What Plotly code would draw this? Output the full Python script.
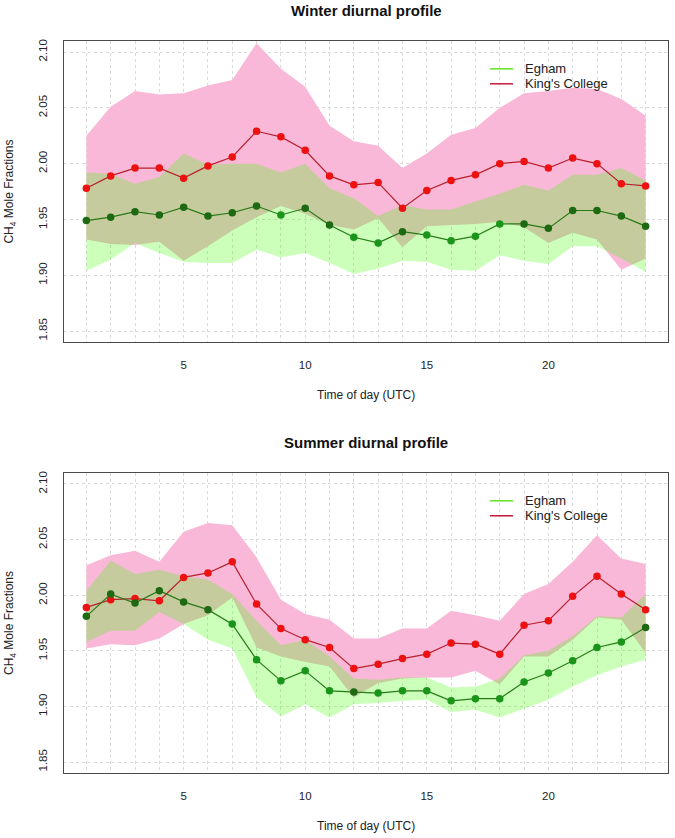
import plotly.graph_objects as go

# hour of day
hours = list(range(1, 25))

# winter profile
w_eg_mean = [1.949, 1.952, 1.957, 1.954, 1.961, 1.953, 1.956, 1.962, 1.954, 1.960, 1.945, 1.934,
             1.929, 1.939, 1.936, 1.931, 1.935, 1.946, 1.946, 1.942, 1.958, 1.958, 1.953, 1.944]
w_eg_lo = [1.904, 1.914, 1.929, 1.920, 1.912, 1.911, 1.911, 1.923, 1.916, 1.920, 1.911, 1.901,
           1.906, 1.913, 1.912, 1.905, 1.904, 1.918, 1.913, 1.910, 1.926, 1.926, 1.915, 1.903]
w_eg_hi = [1.992, 1.991, 1.982, 1.988, 2.009, 1.999, 2.000, 2.000, 1.992, 2.000, 1.978, 1.969,
           1.953, 1.963, 1.959, 1.959, 1.966, 1.973, 1.981, 1.976, 1.990, 1.990, 1.996, 1.985]
w_kc_mean = [1.978, 1.989, 1.996, 1.996, 1.987, 1.998, 2.006, 2.029, 2.024, 2.012, 1.989, 1.981,
             1.983, 1.960, 1.976, 1.985, 1.990, 2.000, 2.002, 1.996, 2.005, 2.000, 1.982, 1.980]
w_kc_lo = [1.932, 1.928, 1.927, 1.930, 1.913, 1.926, 1.940, 1.952, 1.962, 1.955, 1.945, 1.941,
           1.951, 1.925, 1.944, 1.945, 1.946, 1.948, 1.943, 1.929, 1.938, 1.932, 1.905, 1.915]
w_kc_hi = [2.025, 2.051, 2.065, 2.062, 2.063, 2.070, 2.075, 2.108, 2.085, 2.069, 2.034, 2.020,
           2.016, 1.996, 2.009, 2.026, 2.032, 2.050, 2.063, 2.065, 2.068, 2.067, 2.058, 2.043]

# summer profile
s_eg_mean = [1.981, 2.001, 1.993, 2.004, 1.994, 1.987, 1.974, 1.942, 1.923, 1.932, 1.914, 1.913,
             1.912, 1.914, 1.914, 1.905, 1.907, 1.907, 1.922, 1.930, 1.941, 1.953, 1.958, 1.971]
s_eg_lo = [1.958, 1.968, 1.968, 1.985, 1.974, 1.960, 1.952, 1.908, 1.891, 1.902, 1.890, 1.902,
           1.903, 1.905, 1.906, 1.895, 1.897, 1.890, 1.898, 1.906, 1.918, 1.928, 1.936, 1.942]
s_eg_hi = [2.004, 2.031, 2.019, 2.023, 2.017, 2.014, 2.001, 1.977, 1.955, 1.960, 1.945, 1.925,
           1.924, 1.926, 1.926, 1.917, 1.918, 1.925, 1.946, 1.950, 1.963, 1.981, 1.980, 2.001]
s_kc_mean = [1.989, 1.996, 1.997, 1.995, 2.016, 2.020, 2.030, 1.992, 1.970, 1.960, 1.953, 1.934,
             1.938, 1.943, 1.947, 1.957, 1.956, 1.947, 1.973, 1.977, 1.999, 2.017, 2.001, 1.987]
s_kc_lo = [1.952, 1.956, 1.955, 1.961, 1.974, 1.982, 1.998, 1.953, 1.945, 1.940, 1.936, 1.908,
           1.921, 1.925, 1.926, 1.926, 1.932, 1.920, 1.945, 1.945, 1.960, 1.980, 1.978, 1.948]
s_kc_hi = [2.027, 2.036, 2.040, 2.030, 2.057, 2.065, 2.063, 2.034, 1.996, 1.983, 1.978, 1.961,
           1.961, 1.970, 1.970, 1.986, 1.982, 1.977, 2.001, 2.010, 2.030, 2.054, 2.033, 2.028]

series_names = ["Egham", "King's College"]
y_ticks = [1.85, 1.90, 1.95, 2.00, 2.05, 2.10]
x_ticks = [5, 10, 15, 20]

W, H = 675, 838
FONT = "Liberation Sans, Arial, sans-serif"

PINK = "rgb(249,184,215)"
GREEN_BAND = "rgba(64,255,0,0.27)"
RED_LINE = "#b8202e"
RED_PT = "#ee1111"
GREEN_LINE = "#287a18"
GREEN_PT = "#1a951a"
GREEN_PT_DARK = "#1d6a12"
LEG_COLORS = ["#66e022", "#c8193c"]
GRID = "#dadada"


def px_x(x):
    return x / W


def px_y(y):
    return 1 - y / H


panels = [
    ("Winter diurnal profile", w_eg_mean, w_eg_lo, w_eg_hi, w_kc_mean, w_kc_lo, w_kc_hi, 39, 341),
    ("Summer diurnal profile", s_eg_mean, s_eg_lo, s_eg_hi, s_kc_mean, s_kc_lo, s_kc_hi, 472, 773),
]

fig = go.Figure()
annotations = []
shapes = []

for i, (title, eg_m, eg_lo, eg_hi, kc_m, kc_lo, kc_hi, top, bottom) in enumerate(panels):
    sfx = "" if i == 0 else str(i + 1)
    xa, ya = "x" + sfx, "y" + sfx

    # King's College band (pink) first, then Egham band on top
    fig.add_trace(go.Scatter(x=hours, y=kc_lo, mode="lines", line=dict(width=0),
                             showlegend=False, hoverinfo="skip", xaxis=xa, yaxis=ya))
    fig.add_trace(go.Scatter(x=hours, y=kc_hi, mode="lines", line=dict(width=0), fill="tonexty",
                             fillcolor=PINK, showlegend=False, hoverinfo="skip", xaxis=xa, yaxis=ya))
    fig.add_trace(go.Scatter(x=hours, y=eg_lo, mode="lines", line=dict(width=0),
                             showlegend=False, hoverinfo="skip", xaxis=xa, yaxis=ya))
    fig.add_trace(go.Scatter(x=hours, y=eg_hi, mode="lines", line=dict(width=0), fill="tonexty",
                             fillcolor=GREEN_BAND, showlegend=False, hoverinfo="skip", xaxis=xa, yaxis=ya))

    # mean lines; Egham points inside the pink band look darker in the original
    eg_cols = [GREEN_PT_DARK if lo <= v <= hi else GREEN_PT for v, lo, hi in zip(eg_m, kc_lo, kc_hi)]
    fig.add_trace(go.Scatter(x=hours, y=kc_m, mode="lines+markers",
                             line=dict(color=RED_LINE, width=1.2),
                             marker=dict(color=RED_PT, size=7.5),
                             showlegend=False, xaxis=xa, yaxis=ya))
    fig.add_trace(go.Scatter(x=hours, y=eg_m, mode="lines+markers",
                             line=dict(color=GREEN_LINE, width=1.2),
                             marker=dict(color=eg_cols, size=7.5),
                             showlegend=False, xaxis=xa, yaxis=ya))

    axis_common = dict(showline=True, mirror=True, linecolor="#4a4a4a", linewidth=1.4,
                       gridcolor=GRID, griddash="dot", gridwidth=1, zeroline=False,
                       ticks="", tickfont=dict(family=FONT, size=11.5, color="#222222"))
    fig.layout["xaxis" + sfx] = dict(axis_common, domain=[px_x(64), px_x(668)], range=[0.08, 24.92],
                                     tickvals=x_ticks, anchor=ya,
                                     minor=dict(dtick=1, tick0=0, showgrid=True, gridcolor=GRID,
                                                griddash="dot", gridwidth=1),
                                     ticklabelstandoff=12)
    fig.layout["yaxis" + sfx] = dict(axis_common, domain=[px_y(bottom), px_y(top)], range=[1.84, 2.11],
                                     tickvals=y_ticks, ticktext=["%.2f" % v for v in y_ticks],
                                     tickangle=-90, anchor=xa, ticklabelstandoff=11)

    annotations.append(dict(text="<b>" + title + "</b>", x=px_x(366), y=px_y(top - 30),
                            xref="paper", yref="paper", showarrow=False, xanchor="center", yanchor="middle",
                            font=dict(family=FONT, size=15, color="#111111")))
    annotations.append(dict(text="Time of day (UTC)", x=px_x(366), y=px_y(bottom + 53),
                            xref="paper", yref="paper", showarrow=False, xanchor="center", yanchor="middle",
                            font=dict(family=FONT, size=12, color="#222222")))
    annotations.append(dict(text="CH<sub>4</sub> Mole Fractions", x=px_x(10), y=px_y((top + bottom) / 2),
                            xref="paper", yref="paper", showarrow=False, textangle=-90,
                            xanchor="center", yanchor="middle",
                            font=dict(family=FONT, size=12, color="#222222")))

    # legend drawn as line keys with text labels
    for k, (name, col) in enumerate(zip(series_names, LEG_COLORS)):
        ly = top + 28 + 15 * k
        shapes.append(dict(type="line", xref="paper", yref="paper",
                           x0=px_x(490), x1=px_x(513), y0=px_y(ly), y1=px_y(ly),
                           line=dict(color=col, width=1.5)))
        annotations.append(dict(text=name, x=px_x(523), y=px_y(ly), xref="paper", yref="paper",
                                showarrow=False, xanchor="left", yanchor="middle",
                                font=dict(family=FONT, size=13, color="#222222")))

fig.update_layout(width=W, height=H, margin=dict(l=0, r=0, t=0, b=0),
                  paper_bgcolor="white", plot_bgcolor="white", showlegend=False,
                  annotations=annotations, shapes=shapes, font=dict(family=FONT))

# drop the default page margin so the figure sits at the window corner
fig.write_html("out.html", config={"displayModeBar": False},
               post_script="document.body.style.margin='0';")
